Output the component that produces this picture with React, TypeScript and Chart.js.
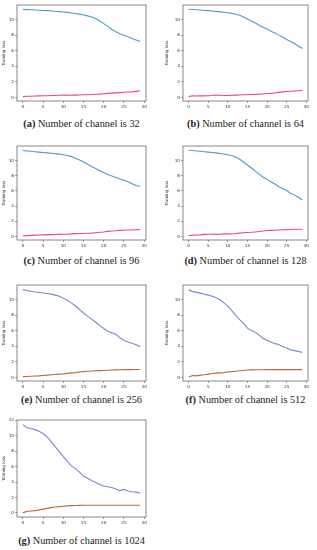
import React, { useEffect, useRef } from "react";
import { Chart, registerables } from "chart.js";

Chart.register(...registerables);

const EPOCHS = Array.from({ length: 30 }, (_, i) => i);
const X_TICKS = [0, 5, 10, 15, 20, 25, 30];
const Y_TICKS = [0, 2, 4, 6, 8, 10];
const Y_TICKS_G = [0, 2, 4, 6, 8, 10, 12];

const TRAIN_32 = [11.33, 11.3, 11.28, 11.25, 11.22, 11.2, 11.17, 11.13, 11.1, 11.05, 11.0, 10.95, 10.88, 10.8, 10.72, 10.62, 10.5, 10.35, 10.15, 9.85, 9.5, 9.15, 8.75, 8.45, 8.2, 8.0, 7.8, 7.6, 7.4, 7.2];
const VAL_32 = [0.1, 0.15, 0.15, 0.18, 0.2, 0.22, 0.22, 0.25, 0.25, 0.28, 0.3, 0.3, 0.28, 0.3, 0.32, 0.35, 0.35, 0.38, 0.4, 0.42, 0.48, 0.52, 0.55, 0.58, 0.62, 0.66, 0.7, 0.72, 0.78, 0.85];

const TRAIN_64 = [11.35, 11.32, 11.28, 11.25, 11.2, 11.17, 11.12, 11.08, 11.02, 10.97, 10.9, 10.82, 10.72, 10.58, 10.35, 10.1, 9.85, 9.58, 9.3, 9.05, 8.8, 8.52, 8.28, 8.02, 7.75, 7.45, 7.2, 6.95, 6.6, 6.3];
const VAL_64 = [0.1, 0.22, 0.18, 0.2, 0.2, 0.22, 0.25, 0.3, 0.28, 0.25, 0.25, 0.28, 0.3, 0.32, 0.35, 0.35, 0.38, 0.38, 0.42, 0.45, 0.5, 0.52, 0.58, 0.65, 0.72, 0.76, 0.8, 0.83, 0.86, 0.9];

const TRAIN_96 = [11.3, 11.25, 11.2, 11.15, 11.1, 11.05, 11.0, 10.95, 10.9, 10.83, 10.75, 10.65, 10.5, 10.3, 10.05, 9.8, 9.5, 9.2, 8.95, 8.65, 8.4, 8.15, 7.95, 7.75, 7.55, 7.4, 7.2, 6.95, 6.7, 6.6];
const VAL_96 = [0.1, 0.12, 0.15, 0.18, 0.2, 0.22, 0.25, 0.25, 0.27, 0.28, 0.3, 0.3, 0.35, 0.38, 0.4, 0.4, 0.42, 0.45, 0.5, 0.55, 0.6, 0.68, 0.72, 0.75, 0.8, 0.82, 0.85, 0.86, 0.88, 0.9];

const TRAIN_128 = [11.35, 11.3, 11.25, 11.2, 11.15, 11.1, 11.05, 11.0, 10.92, 10.85, 10.75, 10.65, 10.45, 10.15, 9.8, 9.4, 9.0, 8.6, 8.2, 7.8, 7.5, 7.2, 6.9, 6.55, 6.3, 6.05, 5.7, 5.45, 5.15, 4.8];
const VAL_128 = [0.1, 0.18, 0.2, 0.22, 0.28, 0.3, 0.3, 0.28, 0.3, 0.35, 0.35, 0.32, 0.4, 0.45, 0.5, 0.52, 0.55, 0.6, 0.65, 0.72, 0.78, 0.8, 0.82, 0.85, 0.88, 0.9, 0.92, 0.95, 0.95, 0.95];

const TRAIN_256 = [11.3, 11.2, 11.1, 11.0, 10.95, 10.88, 10.8, 10.72, 10.6, 10.45, 10.2, 9.95, 9.6, 9.2, 8.75, 8.3, 7.9, 7.5, 7.1, 6.7, 6.3, 5.95, 5.75, 5.55, 5.1, 4.75, 4.55, 4.4, 4.2, 3.95];
const VAL_256 = [0.1, 0.12, 0.15, 0.18, 0.2, 0.25, 0.3, 0.35, 0.38, 0.42, 0.45, 0.52, 0.58, 0.62, 0.7, 0.75, 0.8, 0.82, 0.85, 0.88, 0.9, 0.92, 0.95, 0.97, 0.98, 1.0, 1.0, 1.0, 1.02, 1.02];

const TRAIN_512 = [11.3, 11.05, 10.95, 10.85, 10.72, 10.6, 10.45, 10.25, 10.0, 9.6, 9.15, 8.6, 8.0, 7.45, 6.95, 6.35, 6.05, 5.8, 5.45, 5.05, 4.75, 4.55, 4.35, 4.25, 3.95, 3.8, 3.55, 3.45, 3.35, 3.2];
const VAL_512 = [0.05, 0.25, 0.2, 0.3, 0.35, 0.42, 0.5, 0.55, 0.58, 0.62, 0.72, 0.75, 0.8, 0.85, 0.9, 0.95, 0.97, 0.98, 0.98, 0.99, 1.0, 1.0, 1.0, 1.0, 1.0, 1.0, 1.0, 1.0, 1.0, 1.0];

const TRAIN_1024 = [11.45, 11.05, 10.95, 10.8, 10.6, 10.3, 9.85, 9.25, 8.6, 7.95, 7.3, 6.7, 6.1, 5.75, 5.3, 4.75, 4.5, 4.2, 3.95, 3.7, 3.5, 3.4, 3.3, 3.1, 2.9, 3.05, 2.85, 2.75, 2.7, 2.6];
const VAL_1024 = [0.05, 0.2, 0.25, 0.3, 0.4, 0.5, 0.6, 0.7, 0.78, 0.82, 0.88, 0.92, 0.95, 0.97, 0.98, 1.0, 1.0, 1.0, 1.0, 1.0, 1.0, 1.0, 1.0, 1.0, 1.0, 1.0, 1.0, 1.0, 1.0, 1.0];

const LETTERS = ["a", "b", "c", "d", "e", "f", "g"];
const CHANNELS = [32, 64, 96, 128, 256, 512, 1024];
const TRAIN = [TRAIN_32, TRAIN_64, TRAIN_96, TRAIN_128, TRAIN_256, TRAIN_512, TRAIN_1024];
const VAL = [VAL_32, VAL_64, VAL_96, VAL_128, VAL_256, VAL_512, VAL_1024];

const BLUE_A = "#4f9cc8";
const RED_A = "#f04a6a";
const BLUE_B = "#7489d2";
const RED_B = "#b96a38";

type PanelProps = { idx: number; left: number; top: number; width: number; height: number; frameLeft: number; frameRight: number; frameTop: number; frameBottom: number };

const framePlugin = {
  id: "frameBox",
  afterDraw(chart: any) {
    const { ctx, chartArea } = chart;
    ctx.save();
    ctx.strokeStyle = "#555";
    ctx.lineWidth = 0.7;
    ctx.strokeRect(chartArea.left, chartArea.top, chartArea.right - chartArea.left, chartArea.bottom - chartArea.top);
    ctx.restore();
  },
};

function Panel(p: PanelProps) {
  const ref = useRef<HTMLCanvasElement>(null);
  useEffect(() => {
    const i = p.idx;
    const late = i >= 4;
    const yTicks = i === 6 ? Y_TICKS_G : Y_TICKS;
    const yMax = i === 6 ? 12.05 : 11.9;
    const yMin = i === 6 ? -0.52 : -0.46;
    const yAxisW = p.frameLeft - p.left;
    const xAxisH = p.top + p.height - p.frameBottom;
    const chart = new Chart(ref.current!, {
      type: "line",
      data: {
        datasets: [
          {
            data: EPOCHS.map((e, k) => ({ x: e, y: TRAIN[i][k] })),
            borderColor: late ? BLUE_B : BLUE_A,
            borderWidth: 1.1,
            pointRadius: 0,
            tension: 0,
          },
          {
            data: EPOCHS.map((e, k) => ({ x: e, y: VAL[i][k] })),
            borderColor: late ? RED_B : RED_A,
            borderWidth: 1.1,
            pointRadius: 0,
            tension: 0,
          },
        ],
      },
      options: {
        animation: false,
        responsive: false,
        maintainAspectRatio: false,
        layout: { padding: { left: 0, top: p.frameTop - p.top, right: p.left + p.width - p.frameRight, bottom: 0 } },
        plugins: { legend: { display: false }, tooltip: { enabled: false } },
        scales: {
          x: {
            type: "linear",
            min: -1.45,
            max: 30.45,
            afterBuildTicks: (s: any) => { s.ticks = X_TICKS.map((v) => ({ value: v })); },
            afterFit: (s: any) => { s.height = xAxisH; },
            grid: { drawOnChartArea: false, tickLength: 2, color: "#444", lineWidth: 0.5 },
            border: { display: false },
            ticks: { font: { size: 4.2, family: "DejaVu Sans" }, color: "#333", padding: 1, maxRotation: 0 },
          },
          y: {
            type: "linear",
            min: yMin,
            max: yMax,
            afterBuildTicks: (s: any) => { s.ticks = yTicks.map((v) => ({ value: v })); },
            afterFit: (s: any) => { s.width = yAxisW; },
            grid: { drawOnChartArea: false, tickLength: 2, color: "#444", lineWidth: 0.5 },
            border: { display: false },
            ticks: { font: { size: 4.2, family: "DejaVu Sans" }, color: "#333", padding: 1 },
            title: { display: true, text: "Training loss", font: { size: 4, family: "DejaVu Sans" }, color: "#333", padding: { top: 2, bottom: 0 } },
          },
        },
      },
      plugins: [framePlugin],
    });
    return () => chart.destroy();
  }, []);
  return (
    <canvas
      ref={ref}
      width={p.width}
      height={p.height}
      style={{ position: "absolute", left: p.left, top: p.top, width: p.width, height: p.height }}
    />
  );
}

const ROW_FRAMES = [
  { top: 5, bottom: 101, cap: 124 },
  { top: 146, bottom: 240, cap: 261 },
  { top: 285, bottom: 381, cap: 400 },
  { top: 420, bottom: 517, cap: 541 },
];

export default function App() {
  const panels: React.ReactNode[] = [];
  for (let i = 0; i < 7; i++) {
    const row = Math.floor(i / 2);
    const col = i % 2;
    const rf = ROW_FRAMES[row];
    const left = col === 0 ? 0 : 163;
    const frameLeft = col === 0 ? 17 : 183;
    const frameRight = col === 0 ? 146 : 308;
    const top = rf.top - 5;
    const height = rf.bottom - top + 11;
    const center = (frameLeft + frameRight) / 2;
    panels.push(
      <Panel key={"p" + i} idx={i} left={left} top={top} width={152} height={height} frameLeft={frameLeft} frameRight={frameRight} frameTop={rf.top} frameBottom={rf.bottom} />
    );
    panels.push(
      <div
        key={"c" + i}
        style={{
          position: "absolute",
          left: center - 80,
          width: 160,
          top: rf.cap - 7,
          height: 14,
          lineHeight: "14px",
          textAlign: "center",
          fontFamily: "'Liberation Serif', serif",
          fontSize: 10.3,
          color: "#222",
          whiteSpace: "nowrap",
        }}
      >
        <b>({LETTERS[i]})</b> Number of channel is {CHANNELS[i]}
      </div>
    );
  }
  return (
    <div style={{ position: "fixed", left: 0, top: 0, width: 317, height: 550, background: "#fff", overflow: "hidden" }}>
      {panels}
    </div>
  );
}
